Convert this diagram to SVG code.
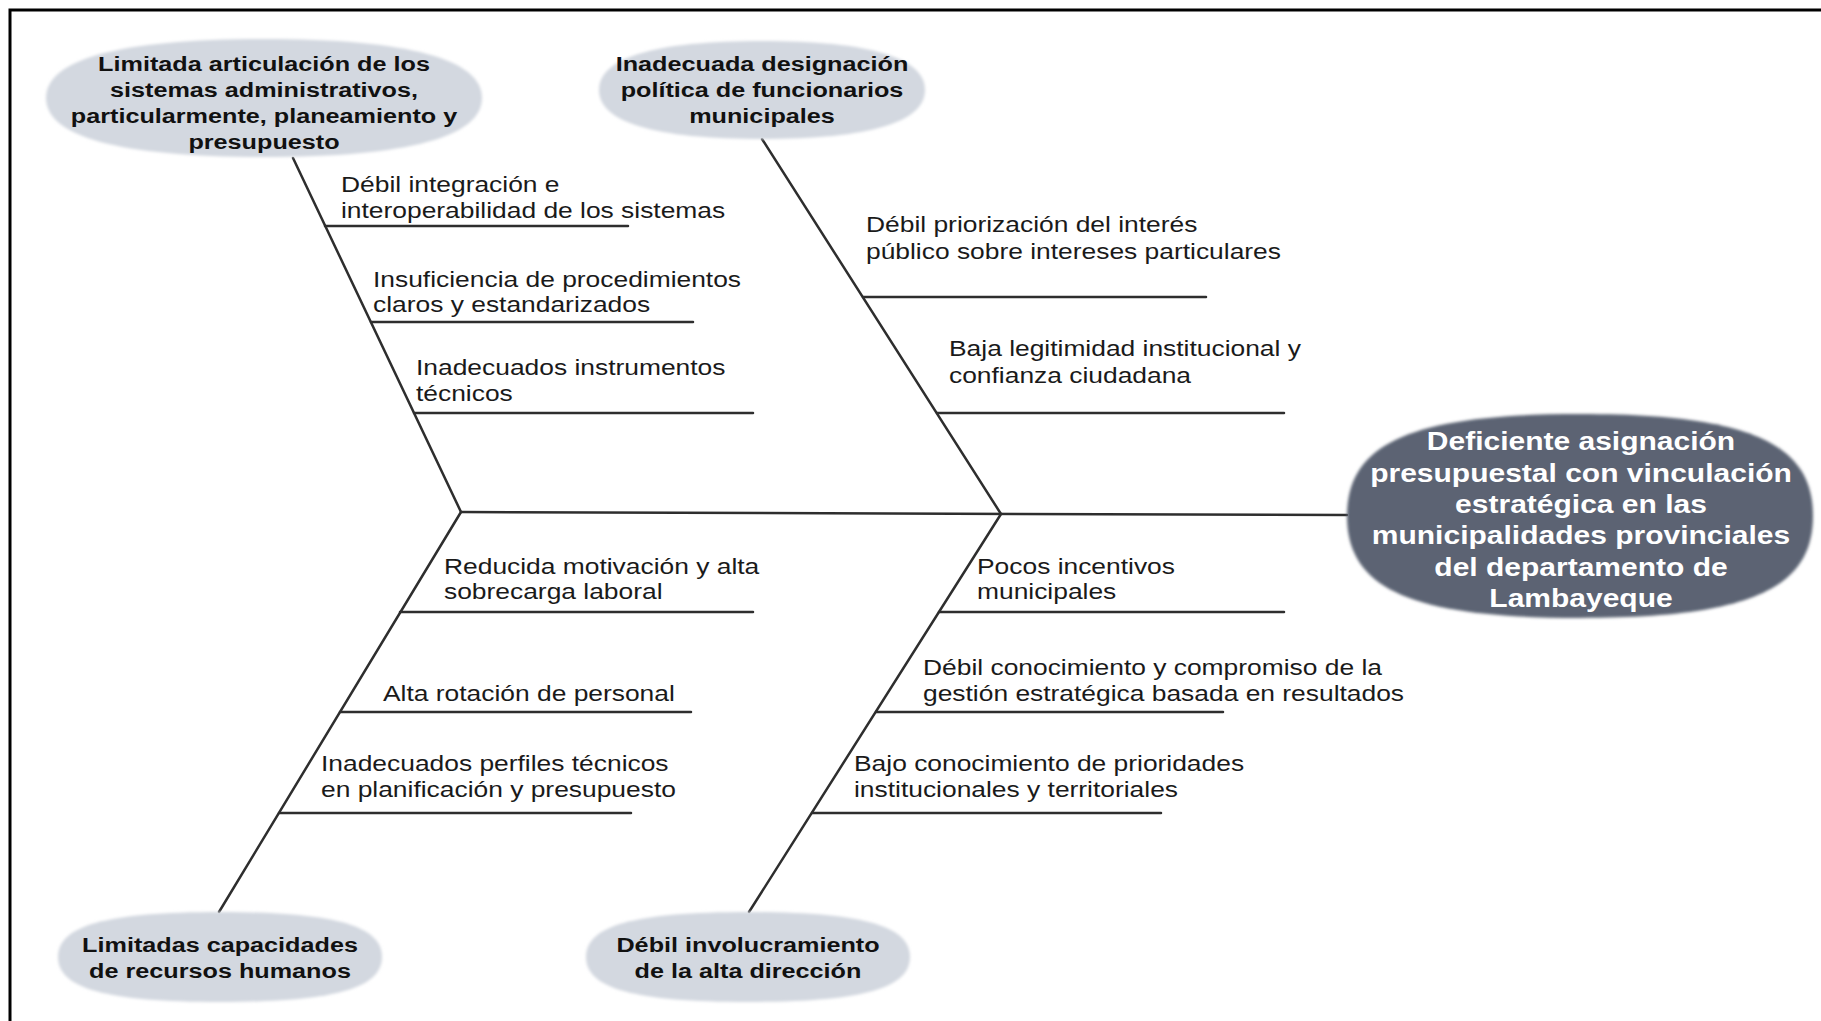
<svg xmlns="http://www.w3.org/2000/svg" width="1821" height="1021" viewBox="0 0 1821 1021">
<defs>
<filter id="soft" x="-10%" y="-10%" width="120%" height="120%"><feGaussianBlur stdDeviation="1.5"/></filter>
<style>
.bg{fill:#ffffff}
.frame{stroke:#000;stroke-width:3;fill:none}
.light{fill:#d3d8e0}
.dark{fill:#5c6473}
.bone{stroke:#2e2e2e;stroke-width:2.5;fill:none;stroke-linecap:round}
.nt{font-family:"Liberation Sans",Arial,sans-serif;font-weight:bold;font-size:21px;fill:#111;text-anchor:middle}
.dt{font-family:"Liberation Sans",Arial,sans-serif;font-weight:bold;font-size:25px;fill:#ffffff;text-anchor:middle}
.st{font-family:"Liberation Sans",Arial,sans-serif;font-size:22px;fill:#1a1a1a}
</style>
</defs>
<rect class="bg" x="0" y="0" width="1821" height="1021"/>
<path class="frame" d="M10,1021 L10,10 L1821,10"/>

<g id="connectors">
<line class="bone" x1="461" y1="512" x2="1347" y2="515"/>
<line class="bone" x1="293" y1="158" x2="461" y2="512"/>
<line class="bone" x1="762" y1="139" x2="1001" y2="514"/>
<line class="bone" x1="461" y1="512" x2="219" y2="912"/>
<line class="bone" x1="1001" y1="514" x2="749" y2="912"/>
<line class="bone" x1="325" y1="226" x2="628" y2="226"/>
<line class="bone" x1="371" y1="322" x2="693" y2="322"/>
<line class="bone" x1="414" y1="413" x2="753" y2="413"/>
<line class="bone" x1="863" y1="297" x2="1206" y2="297"/>
<line class="bone" x1="937" y1="413" x2="1284" y2="413"/>
<line class="bone" x1="400" y1="612" x2="753" y2="612"/>
<line class="bone" x1="340" y1="712" x2="691" y2="712"/>
<line class="bone" x1="279" y1="813" x2="631" y2="813"/>
<line class="bone" x1="939" y1="612" x2="1284" y2="612"/>
<line class="bone" x1="876" y1="712" x2="1223" y2="712"/>
<line class="bone" x1="812" y1="813" x2="1161" y2="813"/>
</g>

<g id="node-articulacion">
<path class="light" filter="url(#soft)" d="M46,98 C46,59.1 120.1,39 264,39 C407.9,39 482,59.1 482,98 C482,136.9 407.9,157 264,157 C120.1,157 46,136.9 46,98 Z"/>
<g transform="translate(264 0) scale(1.2 1)">
<text class="nt" x="0" y="71">Limitada articulación de los</text>
<text class="nt" x="0" y="97">sistemas administrativos,</text>
<text class="nt" x="0" y="123">particularmente, planeamiento y</text>
<text class="nt" x="0" y="149">presupuesto</text>
</g>
</g>

<g id="node-designacion">
<path class="light" filter="url(#soft)" d="M599,90 C599,57.7 654.4,41 762,41 C869.6,41 925,57.7 925,90 C925,122.3 869.6,139 762,139 C654.4,139 599,122.3 599,90 Z"/>
<g transform="translate(762 0) scale(1.2 1)">
<text class="nt" x="0" y="71">Inadecuada designación</text>
<text class="nt" x="0" y="97">política de funcionarios</text>
<text class="nt" x="0" y="123">municipales</text>
</g>
</g>

<g id="node-efecto">
<path class="dark" filter="url(#soft)" d="M1347,516 C1347,442.6 1412.2,414 1580,414 C1747.8,414 1813,442.6 1813,516 C1813,589.4 1747.8,618 1580,618 C1412.2,618 1347,589.4 1347,516 Z"/>
<g transform="translate(1581 0) scale(1.2 1)">
<text class="dt" x="0" y="450">Deficiente asignación</text>
<text class="dt" x="0" y="482">presupuestal con vinculación</text>
<text class="dt" x="0" y="513">estratégica en las</text>
<text class="dt" x="0" y="544">municipalidades provinciales</text>
<text class="dt" x="0" y="576">del departamento de</text>
<text class="dt" x="0" y="607">Lambayeque</text>
</g>
</g>

<g id="node-rrhh">
<path class="light" filter="url(#soft)" d="M58,957 C58,925.5 106.6,912 220,912 C333.4,912 382,925.5 382,957 C382,988.5 333.4,1002 220,1002 C106.6,1002 58,988.5 58,957 Z"/>
<g transform="translate(220 0) scale(1.2 1)">
<text class="nt" x="0" y="952">Limitadas capacidades</text>
<text class="nt" x="0" y="978">de recursos humanos</text>
</g>
</g>

<g id="node-direccion">
<path class="light" filter="url(#soft)" d="M586,957 C586,925.5 634.6,912 748,912 C861.4,912 910,925.5 910,957 C910,988.5 861.4,1002 748,1002 C634.6,1002 586,988.5 586,957 Z"/>
<g transform="translate(748 0) scale(1.2 1)">
<text class="nt" x="0" y="952">Débil involucramiento</text>
<text class="nt" x="0" y="978">de la alta dirección</text>
</g>
</g>

<g id="labels">
<g transform="translate(341 0) scale(1.2 1)">
<text class="st" x="0" y="192">Débil integración e</text>
<text class="st" x="0" y="218">interoperabilidad de los sistemas</text>
</g>
<g transform="translate(373 0) scale(1.2 1)">
<text class="st" x="0" y="287">Insuficiencia de procedimientos</text>
<text class="st" x="0" y="312">claros y estandarizados</text>
</g>
<g transform="translate(416 0) scale(1.2 1)">
<text class="st" x="0" y="375">Inadecuados instrumentos</text>
<text class="st" x="0" y="401">técnicos</text>
</g>
<g transform="translate(866 0) scale(1.2 1)">
<text class="st" x="0" y="232">Débil priorización del interés</text>
<text class="st" x="0" y="259">público sobre intereses particulares</text>
</g>
<g transform="translate(949 0) scale(1.2 1)">
<text class="st" x="0" y="356">Baja legitimidad institucional y</text>
<text class="st" x="0" y="383">confianza ciudadana</text>
</g>
<g transform="translate(444 0) scale(1.2 1)">
<text class="st" x="0" y="574">Reducida motivación y alta</text>
<text class="st" x="0" y="599">sobrecarga laboral</text>
</g>
<g transform="translate(383 0) scale(1.2 1)">
<text class="st" x="0" y="701">Alta rotación de personal</text>
</g>
<g transform="translate(321 0) scale(1.2 1)">
<text class="st" x="0" y="771">Inadecuados perfiles técnicos</text>
<text class="st" x="0" y="797">en planificación y presupuesto</text>
</g>
<g transform="translate(977 0) scale(1.2 1)">
<text class="st" x="0" y="574">Pocos incentivos</text>
<text class="st" x="0" y="599">municipales</text>
</g>
<g transform="translate(923 0) scale(1.2 1)">
<text class="st" x="0" y="675">Débil conocimiento y compromiso de la</text>
<text class="st" x="0" y="701">gestión estratégica basada en resultados</text>
</g>
<g transform="translate(854 0) scale(1.2 1)">
<text class="st" x="0" y="771">Bajo conocimiento de prioridades</text>
<text class="st" x="0" y="797">institucionales y territoriales</text>
</g>
</g>
</svg>
